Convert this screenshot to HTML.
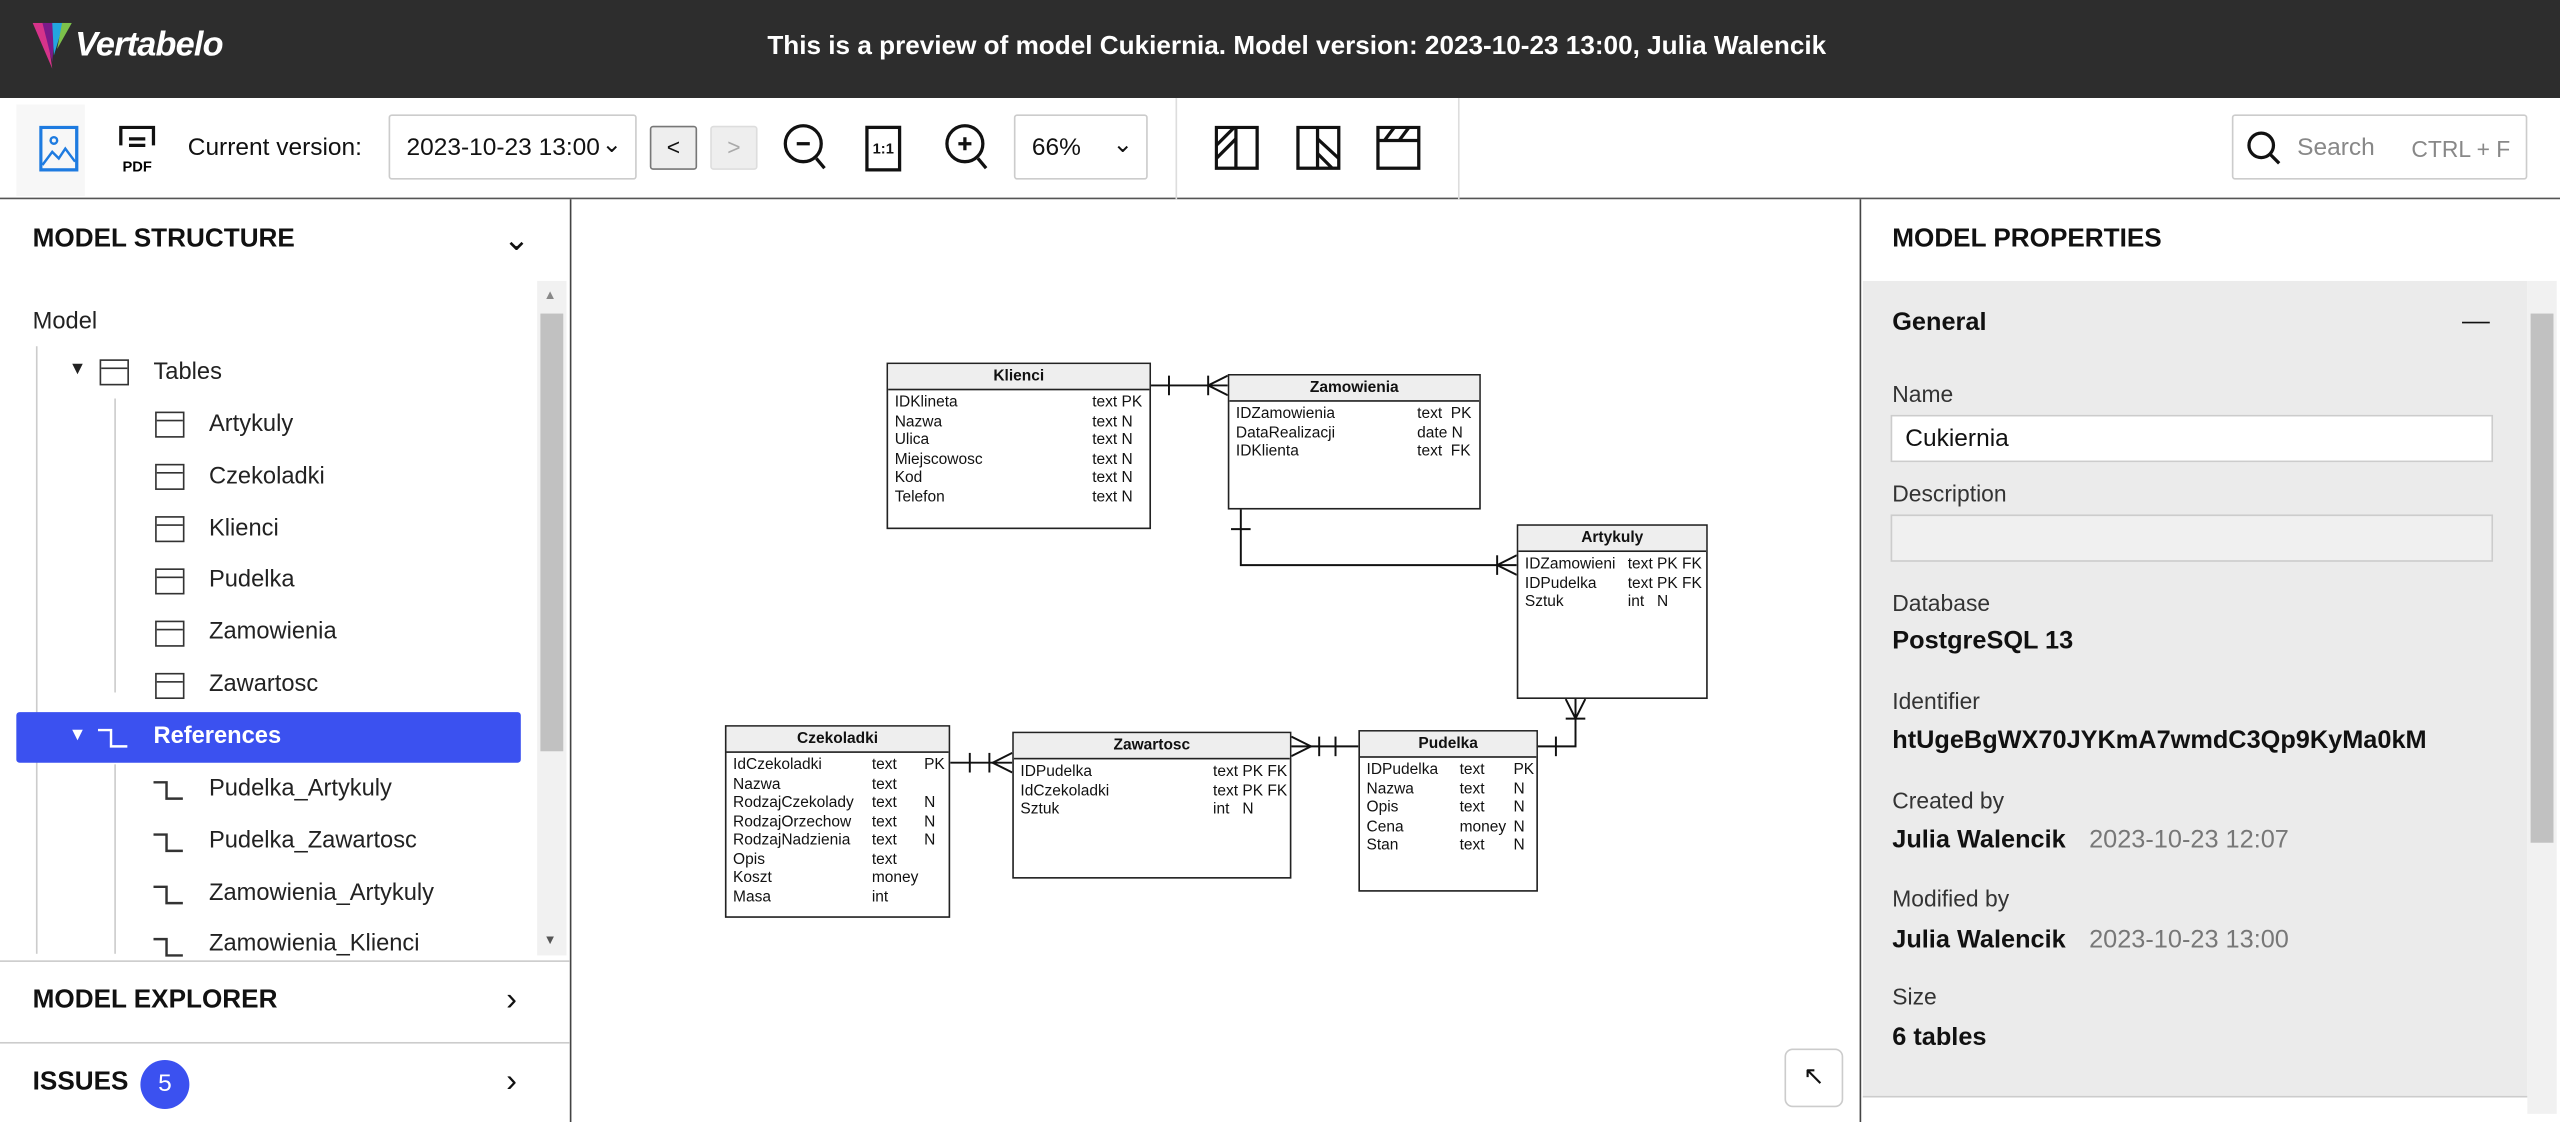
<!DOCTYPE html>
<html><head><meta charset="utf-8"><style>
*{box-sizing:border-box;margin:0;padding:0}
html,body{width:2560px;height:1122px;overflow:hidden;background:#fff}
#w{position:absolute;left:0;top:0;width:1568px;height:687px;transform:scale(1.63265,1.6332);transform-origin:0 0;font-family:"Liberation Sans",sans-serif;color:#111}
.a{position:absolute}
.hd{left:0;top:0;width:1568px;height:60px;background:#2d2d2d}
.t{position:absolute;border:1px solid #222;background:#fff;font-size:9.5px;font-family:"Liberation Sans",sans-serif}
.t .h{height:16px;border-bottom:1px solid #222;background:#eee;text-align:center;font-weight:bold;line-height:15px}
.t .r{position:relative;height:11.5px;line-height:11.5px;padding-left:4px;white-space:nowrap}
.t .r span{position:absolute;top:0}
.tree{font-size:14.5px;color:#222}
.icon{width:18px;height:16px;border:1.5px solid #333}
.icon:after{content:"";position:absolute;left:0;right:0;top:4px;border-top:1.5px solid #333}
.lbl{font-size:14px;color:#333}
.in{border:1px solid #ccc;background:#fff;height:29px;width:369px;font-size:15px;padding:5px 8px}
.sh{font-size:16px;font-weight:bold}
</style></head><body><div id="w">
<div class="a hd"></div>
<svg class="a" style="left:20px;top:14px" width="24" height="28" viewBox="0 0 24 28"><polygon points="0,0 8,0 12,28" fill="#d6338a"/><polygon points="6,0 14,0 12,24" fill="#7b1a8a"/><polygon points="12,0 19,0 13,20" fill="#22a6e0"/><polygon points="18,0 24,0 15,16" fill="#7dc24b"/></svg>
<div class="a" style="left:46px;top:16px;color:#fff;font-size:21px;font-style:italic;font-weight:bold;letter-spacing:-0.5px">Vertabelo</div>
<div class="a" style="left:470px;top:20px;color:#fff;font-size:16px;font-weight:bold">This is a preview of model Cukiernia. Model version: 2023-10-23 13:00, Julia Walencik</div>
<div class="a" style="left:0;top:121px;width:1568px;border-top:1.5px solid #555"></div>
<div class="a" style="left:10px;top:64px;width:42px;height:56px;background:#f7f7f7"></div>
<svg class="a" style="left:24px;top:77px" width="26" height="28"><rect x="1" y="1" width="22" height="26" fill="none" stroke="#1e7be0" stroke-width="2"/><circle cx="9" cy="9" r="2" fill="none" stroke="#1e7be0" stroke-width="1.5"/><polyline points="2,24 8,16 12,20 16,14 22,22" fill="none" stroke="#1e7be0" stroke-width="1.5"/></svg>
<svg class="a" style="left:72px;top:77px" width="26" height="30"><polyline points="2,12 2,1 22,1 22,12" fill="none" stroke="#111" stroke-width="2"/><line x1="7" y1="8" x2="17" y2="8" stroke="#111" stroke-width="2"/><line x1="7" y1="12" x2="17" y2="12" stroke="#111" stroke-width="2"/><text x="3" y="28" font-size="9" font-weight="bold" font-family="Liberation Sans">PDF</text></svg>
<div class="a" style="left:115px;top:82px;font-size:15px">Current version:</div>
<div class="a" style="left:238px;top:70px;width:152px;height:40px;border:1px solid #ccc;border-radius:2px;font-size:15px;padding:11px 10px">2023-10-23 13:00 <span style="position:absolute;right:8px;top:8px">&#8964;</span></div>
<div class="a" style="left:398px;top:77px;width:29px;height:27px;border:1px solid #777;background:#eee;border-radius:2px;text-align:center;line-height:25px;font-size:14px">&lt;</div>
<div class="a" style="left:435px;top:77px;width:29px;height:27px;border:1px solid #ddd;background:#eee;border-radius:2px;text-align:center;line-height:25px;font-size:14px;color:#aaa">&gt;</div>
<svg class="a" style="left:479px;top:75px" width="30" height="30"><circle cx="13" cy="13" r="11" fill="none" stroke="#111" stroke-width="2"/><line x1="9" y1="13" x2="17" y2="13" stroke="#111" stroke-width="2"/><line x1="21" y1="22" x2="26" y2="28" stroke="#111" stroke-width="2"/></svg>
<div class="a" style="left:530px;top:77px;width:22px;height:28px;border:2px solid #111;font-size:9px;font-weight:bold;text-align:center;line-height:24px">1:1</div>
<svg class="a" style="left:578px;top:75px" width="30" height="30"><circle cx="13" cy="13" r="11" fill="none" stroke="#111" stroke-width="2"/><line x1="9" y1="13" x2="17" y2="13" stroke="#111" stroke-width="2"/><line x1="13" y1="9" x2="13" y2="17" stroke="#111" stroke-width="2"/><line x1="21" y1="22" x2="26" y2="28" stroke="#111" stroke-width="2"/></svg>
<div class="a" style="left:621px;top:70px;width:82px;height:40px;border:1px solid #ccc;border-radius:2px;font-size:15px;padding:11px 10px">66% <span style="position:absolute;right:8px;top:8px">&#8964;</span></div>
<div class="a" style="left:720px;top:60px;height:62px;border-left:1px solid #ddd"></div>
<div class="a" style="left:893px;top:60px;height:62px;border-left:1px solid #ddd"></div>
<svg class="a" style="left:744px;top:77px" width="130" height="28"><g fill="none" stroke="#111" stroke-width="2"><rect x="1" y="1" width="25" height="25"/><line x1="13" y1="1" x2="13" y2="26"/><line x1="1" y1="20" x2="13" y2="8"/><line x1="1" y1="12" x2="12" y2="1"/><rect x="51" y="1" width="25" height="25"/><line x1="63" y1="1" x2="63" y2="26"/><line x1="63" y1="8" x2="76" y2="20"/><line x1="63" y1="17" x2="72" y2="26"/><rect x="100" y="1" width="25" height="25"/><line x1="100" y1="9" x2="125" y2="9"/><line x1="104" y1="9" x2="110" y2="1"/><line x1="113" y1="9" x2="119" y2="1"/></g></svg>
<div class="a" style="left:1367px;top:70px;width:181px;height:40px;border:1px solid #ccc;border-radius:2px"></div>
<svg class="a" style="left:1376px;top:80px" width="22" height="22"><circle cx="9" cy="9" r="7.5" fill="none" stroke="#111" stroke-width="2"/><line x1="14" y1="14" x2="20" y2="20" stroke="#111" stroke-width="2"/></svg>
<div class="a" style="left:1407px;top:82px;font-size:15px;color:#888">Search</div>
<div class="a" style="left:1477px;top:83px;font-size:14px;color:#888">CTRL + F</div>
<div class="a" style="left:349px;top:122px;height:565px;border-left:1.5px solid #444"></div>
<div class="a sh" style="left:20px;top:138px">MODEL STRUCTURE</div>
<div class="a" style="left:308px;top:134px;font-size:20px">&#8964;</div>
<div class="a" style="left:329px;top:172px;width:18px;height:413px;background:#f1f1f1"></div>
<div class="a" style="left:331px;top:192px;width:14px;height:268px;background:#c1c1c1"></div>
<div class="a" style="left:333px;top:176px;font-size:8px;color:#888">&#9650;</div>
<div class="a" style="left:333px;top:571px;font-size:8px;color:#555">&#9660;</div>
<div class="a tree" style="left:20px;top:189px">Model</div>
<div class="a" style="left:22px;top:212px;height:372px;border-left:1px solid #ccc"></div>
<div class="a" style="left:70px;top:244px;height:180px;border-left:1px solid #ccc"></div>
<div class="a" style="left:70px;top:468px;height:116px;border-left:1px solid #ccc"></div>
<div class="a" style="left:10px;top:436px;width:309px;height:31px;background:#3b51f0;border-radius:2px"></div>
<div class="a tree" style="left:42px;top:220px;font-size:11px">&#9660;</div>
<div class="a icon" style="left:61px;top:220px"></div>
<div class="a tree" style="left:94px;top:220px">Tables</div>
<div class="a tree" style="left:42px;top:444px;font-size:11px;color:#fff">&#9660;</div>
<svg class="a" style="left:60px;top:444px" width="20" height="16"><polyline points="0,3 8,3 8,13 18,13" fill="none" stroke="#fff" stroke-width="1.5"/></svg>
<div class="a tree" style="left:94px;top:443px;color:#fff;font-weight:bold">References</div>
<div class="a icon" style="left:95px;top:252px"></div><div class="a tree" style="left:128px;top:252px">Artykuly</div>
<div class="a icon" style="left:95px;top:284px"></div><div class="a tree" style="left:128px;top:284px">Czekoladki</div>
<div class="a icon" style="left:95px;top:316px"></div><div class="a tree" style="left:128px;top:316px">Klienci</div>
<div class="a icon" style="left:95px;top:348px"></div><div class="a tree" style="left:128px;top:347px">Pudelka</div>
<div class="a icon" style="left:95px;top:380px"></div><div class="a tree" style="left:128px;top:379px">Zamowienia</div>
<div class="a icon" style="left:95px;top:412px"></div><div class="a tree" style="left:128px;top:411px">Zawartosc</div>
<svg class="a" style="left:94px;top:476px" width="22" height="110"><g fill="none" stroke="#333" stroke-width="1.5"><polyline points="0,3 8,3 8,13 18,13"/><polyline points="0,35 8,35 8,45 18,45"/><polyline points="0,67 8,67 8,77 18,77"/><polyline points="0,99 8,99 8,109 18,109"/></g></svg>
<div class="a tree" style="left:128px;top:475px">Pudelka_Artykuly</div>
<div class="a tree" style="left:128px;top:507px">Pudelka_Zawartosc</div>
<div class="a tree" style="left:128px;top:539px">Zamowienia_Artykuly</div>
<div class="a tree" style="left:128px;top:570px">Zamowienia_Klienci</div>
<div class="a" style="left:0;top:588px;width:349px;border-top:1px solid #ccc"></div>
<div class="a" style="left:0;top:638px;width:349px;border-top:1px solid #ccc"></div>
<div class="a sh" style="left:20px;top:604px">MODEL EXPLORER</div>
<div class="a" style="left:310px;top:601px;font-size:20px">&#8250;</div>
<div class="a sh" style="left:20px;top:654px">ISSUES</div>
<div class="a" style="left:86px;top:649px;width:30px;height:30px;border-radius:50%;background:#3b51f0;color:#fff;text-align:center;line-height:30px;font-size:15px">5</div>
<div class="a" style="left:310px;top:651px;font-size:20px">&#8250;</div>
<div class="a" style="left:1139px;top:122px;height:565px;border-left:1.5px solid #444"></div>
<div class="a sh" style="left:1159px;top:138px">MODEL PROPERTIES</div>
<div class="a" style="left:1141px;top:172px;width:407px;height:500px;background:#ebebeb;border-bottom:1px solid #ccc"></div>
<div class="a" style="left:1548px;top:172px;width:18px;height:510px;background:#f1f1f1"></div>
<div class="a" style="left:1550px;top:192px;width:14px;height:324px;background:#c1c1c1"></div>
<div class="a" style="left:1159px;top:189px;font-size:15.5px;font-weight:bold">General</div>
<div class="a" style="left:1508px;top:197px;width:17px;border-top:1.5px solid #111"></div>
<div class="a lbl" style="left:1159px;top:233px">Name</div>
<div class="a in" style="left:1158px;top:254px">Cukiernia</div>
<div class="a lbl" style="left:1159px;top:294px">Description</div>
<div class="a in" style="left:1158px;top:315px;background:#f0f0f0"></div>
<div class="a lbl" style="left:1159px;top:361px">Database</div>
<div class="a" style="left:1159px;top:384px;font-size:15.5px;font-weight:bold">PostgreSQL 13</div>
<div class="a lbl" style="left:1159px;top:421px">Identifier</div>
<div class="a" style="left:1159px;top:445px;font-size:15.5px;font-weight:bold">htUgeBgWX70JYKmA7wmdC3Qp9KyMa0kM</div>
<div class="a lbl" style="left:1159px;top:482px">Created by</div>
<div class="a" style="left:1159px;top:506px;font-size:15.5px;font-weight:bold">Julia Walencik <span style="font-weight:normal;color:#777;margin-left:10px">2023-10-23 12:07</span></div>
<div class="a lbl" style="left:1159px;top:542px">Modified by</div>
<div class="a" style="left:1159px;top:567px;font-size:15.5px;font-weight:bold">Julia Walencik <span style="font-weight:normal;color:#777;margin-left:10px">2023-10-23 13:00</span></div>
<div class="a lbl" style="left:1159px;top:602px">Size</div>
<div class="a" style="left:1159px;top:627px;font-size:15.5px;font-weight:bold">6 tables</div>
<div class="a" style="left:1093px;top:642px;width:36px;height:36px;border:1px solid #ccc;border-radius:5px;text-align:center;line-height:34px;font-size:16px">&#8598;</div>
<svg class="a" style="left:0;top:0" width="1568" height="687"><g fill="none" stroke="#111" stroke-width="1.2">
<line x1="704" y1="236" x2="752" y2="236"/><line x1="716" y1="230" x2="716" y2="242"/><line x1="740" y1="230" x2="740" y2="242"/><polyline points="752,230 740,236 752,242"/>
<polyline points="760,312 760,346 929,346"/><line x1="754" y1="324" x2="766" y2="324"/><line x1="917" y1="340" x2="917" y2="352"/><polyline points="929,340 917,346 929,352"/>
<polyline points="941,457 965,457 965,428"/><line x1="953" y1="451" x2="953" y2="463"/><line x1="959" y1="440" x2="971" y2="440"/><polyline points="959,428 965,440 971,428"/>
<line x1="791" y1="457" x2="832" y2="457"/><polyline points="791,451 803,457 791,463"/><line x1="808" y1="451" x2="808" y2="463"/><line x1="818" y1="451" x2="818" y2="463"/>
<line x1="582" y1="467" x2="620" y2="467"/><line x1="594" y1="461" x2="594" y2="473"/><line x1="606" y1="461" x2="606" y2="473"/><polyline points="620,461 608,467 620,473"/>
</g></svg>
<div class="t" style="left:543px;top:222px;width:162px;height:102px"><div class="h">Klienci</div><div style="height:2px"></div>
<div class="r">IDKlineta<span style="left:125px">text PK</span></div><div class="r">Nazwa<span style="left:125px">text N</span></div><div class="r">Ulica<span style="left:125px">text N</span></div><div class="r">Miejscowosc<span style="left:125px">text N</span></div><div class="r">Kod<span style="left:125px">text N</span></div><div class="r">Telefon<span style="left:125px">text N</span></div></div>
<div class="t" style="left:752px;top:229px;width:155px;height:83px"><div class="h">Zamowienia</div><div style="height:2px"></div>
<div class="r">IDZamowienia<span style="left:115px">text&nbsp; PK</span></div><div class="r">DataRealizacji<span style="left:115px">date N</span></div><div class="r">IDKlienta<span style="left:115px">text&nbsp; FK</span></div></div>
<div class="t" style="left:929px;top:321px;width:117px;height:107px"><div class="h">Artykuly</div><div style="height:2px"></div>
<div class="r">IDZamowieni<span style="left:67px">text PK FK</span></div><div class="r">IDPudelka<span style="left:67px">text PK FK</span></div><div class="r">Sztuk<span style="left:67px">int&nbsp;&nbsp; N</span></div></div>
<div class="t" style="left:444px;top:444px;width:138px;height:118px"><div class="h">Czekoladki</div><div style="height:2px"></div>
<div class="r">IdCzekoladki<span style="left:89px">text</span><span style="left:121px">PK</span></div><div class="r">Nazwa<span style="left:89px">text</span></div><div class="r">RodzajCzekolady<span style="left:89px">text</span><span style="left:121px">N</span></div><div class="r">RodzajOrzechow<span style="left:89px">text</span><span style="left:121px">N</span></div><div class="r">RodzajNadzienia<span style="left:89px">text</span><span style="left:121px">N</span></div><div class="r">Opis<span style="left:89px">text</span></div><div class="r">Koszt<span style="left:89px">money</span></div><div class="r">Masa<span style="left:89px">int</span></div></div>
<div class="t" style="left:620px;top:448px;width:171px;height:90px"><div class="h">Zawartosc</div><div style="height:2px"></div>
<div class="r">IDPudelka<span style="left:122px">text PK FK</span></div><div class="r">IdCzekoladki<span style="left:122px">text PK FK</span></div><div class="r">Sztuk<span style="left:122px">int&nbsp;&nbsp; N</span></div></div>
<div class="t" style="left:832px;top:447px;width:110px;height:99px"><div class="h">Pudelka</div><div style="height:2px"></div>
<div class="r">IDPudelka<span style="left:61px">text</span><span style="left:94px">PK</span></div><div class="r">Nazwa<span style="left:61px">text</span><span style="left:94px">N</span></div><div class="r">Opis<span style="left:61px">text</span><span style="left:94px">N</span></div><div class="r">Cena<span style="left:61px">money</span><span style="left:94px">N</span></div><div class="r">Stan<span style="left:61px">text</span><span style="left:94px">N</span></div></div>
</div></body></html>
